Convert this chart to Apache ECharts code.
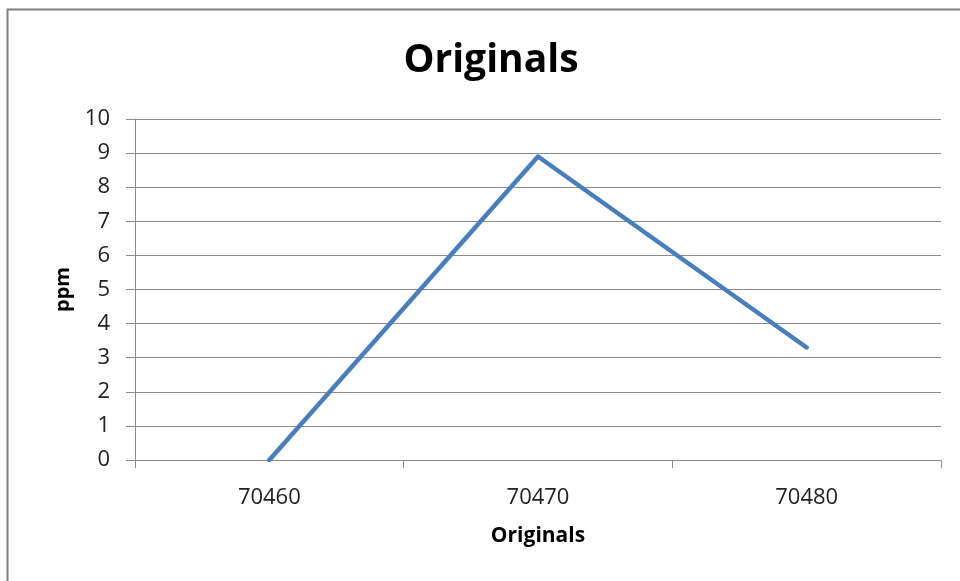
<!DOCTYPE html>
<html>
<head>
<meta charset="utf-8">
<script src="https://cdn.jsdelivr.net/npm/echarts@6/dist/echarts.min.js"></script>
<style>
  html, body { margin: 0; padding: 0; background: #fff; }
  #chart { width: 960px; height: 581px; }
</style>
</head>
<body>
<div id="chart"></div>
<script>
// Sample positions and measured concentrations
const categories = ['70460', '70470', '70480'];
const ppmValues = [0, 8.9, 3.3];
const yTicks = { min: 0, max: 10, interval: 1 };

const FONT = '"Open Sans", "Noto Sans", sans-serif';
const GRID_COLOR = '#8c8c8c';

const chart = echarts.init(document.getElementById('chart'), null, { renderer: 'canvas' });

chart.setOption({
  animation: false,
  backgroundColor: '#ffffff',
  title: {
    text: 'Originals',
    left: 486,
    top: 36,
    textAlign: 'center',
    textStyle: { fontFamily: FONT, fontSize: 39, fontWeight: 'bold', color: '#000' }
  },
  graphic: [{
    type: 'rect',
    left: 5, top: 7,
    shape: { width: 1000, height: 1000 },
    style: { fill: 'none', stroke: '#7f7f7f', lineWidth: 2 },
    silent: true
  }],
  grid: { left: 135, top: 119, right: 19, bottom: 121 },
  xAxis: {
    type: 'category',
    data: categories,
    boundaryGap: true,
    name: 'Originals',
    nameLocation: 'middle',
    nameGap: 66,
    nameTextStyle: { fontFamily: FONT, fontSize: 21, fontWeight: 'bold', color: '#000' },
    axisLine: { show: true, lineStyle: { color: GRID_COLOR, width: 1 } },
    axisTick: { show: true, length: 8, inside: false, lineStyle: { color: GRID_COLOR } },
    axisLabel: { margin: 27, fontFamily: FONT, fontSize: 22, color: '#222' },
    splitLine: { show: false }
  },
  yAxis: {
    type: 'value',
    min: yTicks.min,
    max: yTicks.max,
    interval: yTicks.interval,
    name: 'ppm',
    nameLocation: 'middle',
    nameGap: 62,
    nameRotate: 90,
    nameTextStyle: { fontFamily: FONT, fontSize: 20, fontWeight: 'bold', color: '#000' },
    axisLine: { show: true, lineStyle: { color: GRID_COLOR, width: 1 } },
    axisTick: { show: true, length: 9, inside: false, lineStyle: { color: GRID_COLOR } },
    axisLabel: { margin: 25, fontFamily: FONT, fontSize: 22, color: '#222' },
    splitLine: { show: true, lineStyle: { color: GRID_COLOR, width: 1 } }
  },
  series: [{
    type: 'line',
    data: ppmValues,
    showSymbol: false,
    symbol: 'none',
    lineStyle: { color: '#4a7ebb', width: 4.5, cap: 'round', join: 'round' },
    itemStyle: { color: '#4a7ebb' }
  }]
});
</script>
</body>
</html>
